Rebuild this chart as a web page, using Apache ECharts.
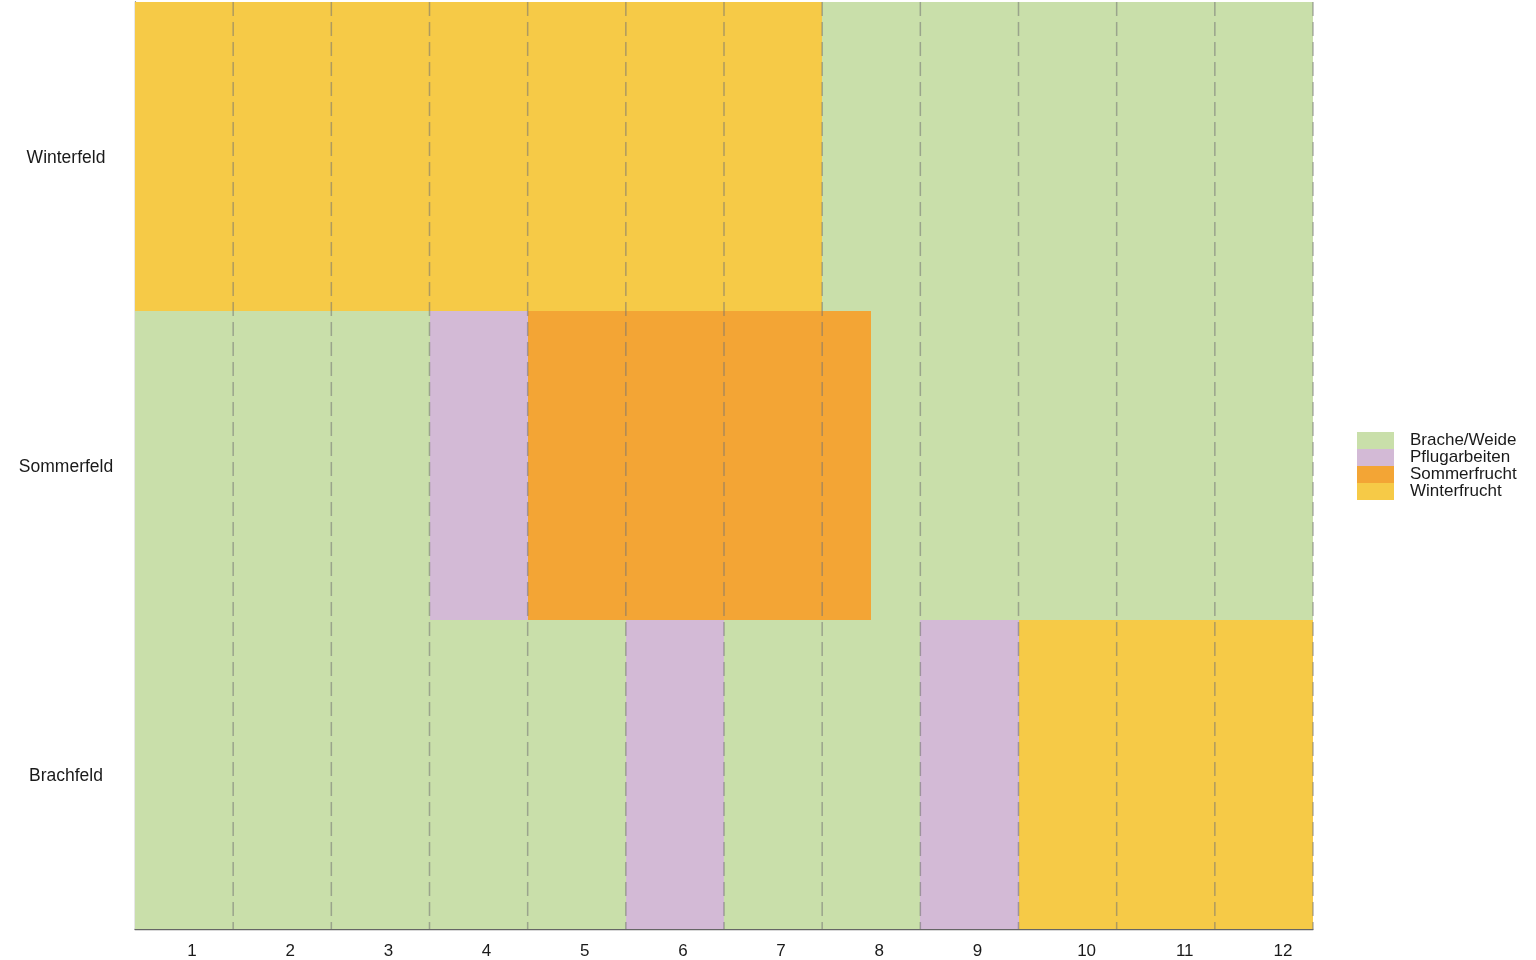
<!DOCTYPE html>
<html>
<head>
<meta charset="utf-8">
<script src="https://cdn.jsdelivr.net/npm/echarts@6/dist/echarts.min.js"></script>
<style>html,body{margin:0;padding:0;background:#fff}#c{width:1536px;height:960px}</style>
</head>
<body>
<div id="c"></div>
<script>
// Rows (top to bottom)
const fields = ['Winterfeld', 'Sommerfeld', 'Brachfeld'];
// Month tick labels
const months = ['1','2','3','4','5','6','7','8','9','10','11','12'];
// Activity categories (legend order)
const activities = ['Brache/Weide', 'Pflugarbeiten', 'Sommerfrucht', 'Winterfrucht'];
const activityColors = ['#C9DFAA', '#D3BAD6', '#F3A535', '#F6CA47'];
// Segments per activity: [field, startMonthBoundary, endMonthBoundary]
const bracheWeide = [
  ['Winterfeld', 7, 12],
  ['Sommerfeld', 0, 3],
  ['Sommerfeld', 7.5, 12],
  ['Brachfeld', 0, 5],
  ['Brachfeld', 6, 8]
];
const pflugarbeiten = [
  ['Sommerfeld', 3, 4],
  ['Brachfeld', 5, 6],
  ['Brachfeld', 8, 9]
];
const sommerfrucht = [
  ['Sommerfeld', 4, 7.5]
];
const winterfrucht = [
  ['Winterfeld', 0, 7],
  ['Brachfeld', 9, 12]
];
const segmentsByActivity = [bracheWeide, pflugarbeiten, sommerfrucht, winterfrucht];
// Month boundaries with dashed separators
const monthBoundaries = [1,2,3,4,5,6,7,8,9,10,11,12];

const FONT = 'Liberation Sans';

function renderSeg(params, api) {
  const row = api.value(0);
  const start = api.coord([api.value(1), row]);
  const end = api.coord([api.value(2), row]);
  const h = api.size([0, 1])[1];
  const y0 = Math.round(start[1] - h / 2);
  const y1 = Math.round(start[1] + h / 2);
  const x0 = Math.round(start[0]);
  const x1 = Math.round(end[0]);
  return {
    type: 'rect',
    shape: { x: x0, y: y0, width: x1 - x0, height: y1 - y0 },
    style: { fill: api.visual('color') }
  };
}

const series = activities.map((name, i) => ({
  name: name,
  type: 'custom',
  xAxisIndex: 0,
  yAxisIndex: 0,
  color: activityColors[i],
  renderItem: renderSeg,
  encode: { x: [1, 2], y: 0 },
  data: segmentsByActivity[i].map(s => [fields.indexOf(s[0]), s[1], s[2]]),
  z: 2
}));

series.push({
  name: 'grid',
  type: 'custom',
  xAxisIndex: 0,
  yAxisIndex: 0,
  z: 5,
  silent: true,
  renderItem: function (params, api) {
    const cs = params.coordSys;
    const x = api.coord([api.value(0), 0])[0];
    return {
      type: 'line',
      shape: { x1: x, y1: cs.y, x2: x, y2: cs.y + cs.height },
      style: { stroke: 'rgba(115,115,115,0.55)', lineWidth: 1.5, lineDash: [14, 6] }
    };
  },
  encode: { x: 0 },
  data: monthBoundaries.map(v => [v])
});

const chart = echarts.init(document.getElementById('c'), null, { renderer: 'canvas' });
chart.setOption({
  animation: false,
  backgroundColor: '#fff',
  grid: { left: 135, right: 223, top: 2, bottom: 30, containLabel: false },
  xAxis: [
    {
      type: 'value', min: 0, max: 12, interval: 1, position: 'bottom',
      axisLine: { show: true, lineStyle: { color: '#666', width: 1.3 } },
      axisTick: { show: false }, axisLabel: { show: false }, splitLine: { show: false }
    },
    {
      type: 'category', data: months, position: 'bottom', boundaryGap: true,
      axisLine: { show: false }, axisTick: { show: false }, splitLine: { show: false },
      axisLabel: {
        margin: 14,
        formatter: function (v) { return v.length > 1 ? '{d|' + v + '}' : '{s|' + v + '}'; },
        rich: {
          s: { fontFamily: FONT, fontSize: 17, color: '#1a1a1a', padding: [0, 0, 0, 16] },
          d: { fontFamily: FONT, fontSize: 17, color: '#1a1a1a', padding: [0, 0, 0, 38] }
        }
      }
    }
  ],
  yAxis: {
    type: 'category', data: fields, inverse: true,
    axisLine: { show: true, lineStyle: { color: '#666', width: 1.3 } },
    axisTick: { show: false }, splitLine: { show: false },
    axisLabel: {
      align: 'center', margin: 69,
      formatter: function (v) { return '{a|' + v + '}'; },
      rich: { a: { fontFamily: FONT, fontSize: 17.5, color: '#1a1a1a', padding: [4, 0, 0, 0] } }
    }
  },
  legend: {
    data: activities,
    orient: 'vertical',
    left: 1357, top: 432, padding: 0,
    itemWidth: 37, itemHeight: 17, itemGap: 0,
    icon: 'rect',
    textStyle: { fontFamily: FONT, fontSize: 17, color: '#1a1a1a', lineHeight: 17, padding: [0, 0, 0, 11] },
    selectedMode: false
  },
  series: series
});
</script>
</body>
</html>
